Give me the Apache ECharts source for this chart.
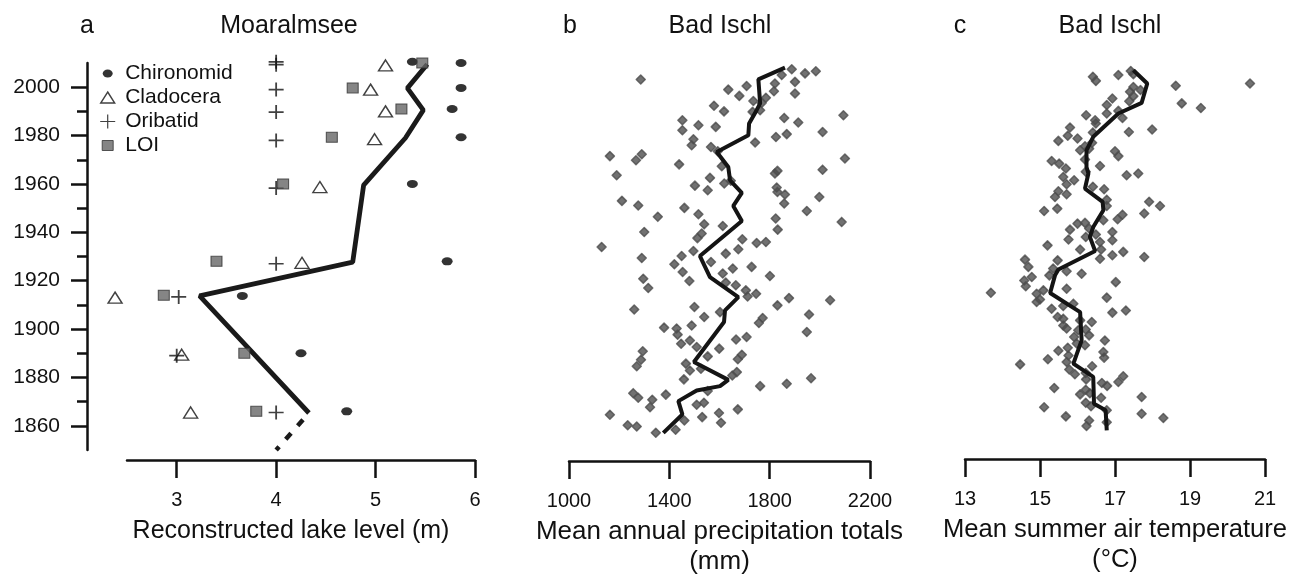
<!DOCTYPE html>
<html>
<head>
<meta charset="utf-8">
<title>Moaralmsee and Bad Ischl</title>
<script src="https://cdn.jsdelivr.net/npm/echarts@6/dist/echarts.min.js"></script>
<style>
  html, body { margin: 0; padding: 0; background: #fff; }
  #chart { width: 1293px; height: 574px; }
</style>
</head>
<body>
<div id="chart"></div>
<script>
// ---- data ----
// panel a: [lake level (m), year]
const chironomid = [[5.37, 2010.5], [5.86, 2010], [5.86, 1999.7], [5.77, 1991], [5.86, 1979.3],
	[5.37, 1960], [5.72, 1928], [3.66, 1913.7], [4.25, 1890], [4.71, 1866]];
const cladocera = [[5.10, 2009], [4.95, 1999], [5.10, 1990], [4.99, 1978.5], [4.44, 1958.7],
	[4.26, 1927.4], [2.38, 1913], [3.05, 1889.4], [3.14, 1865.5]];
const oribatid = [[4.0, 2010.5], [4.0, 2009.3], [4.0, 1999], [4.0, 1989.7], [4.0, 1978],
	[4.0, 1958.3], [4.0, 1927], [3.02, 1913.3], [3.0, 1889], [4.0, 1865.5]];
const loi = [[5.47, 2010], [4.77, 1999.7], [5.26, 1991], [4.56, 1979.3], [4.07, 1960],
	[3.40, 1928], [2.87, 1914], [3.68, 1890], [3.80, 1866]];
const lakeLevel = [[5.52, 2009.5], [5.32, 1999.6], [5.48, 1990.5], [5.30, 1979], [4.88, 1959.5],
	[4.77, 1927.7], [3.23, 1913.7], [4.33, 1865.3]];
const lakeLevelExtrapolated = [[4.33, 1865.3], [4.0, 1850]];

// panel b: [precipitation (mm), year]
const precipYears = [[1286, 2003.2], [1888, 2007.4], [1941, 2005.7], [1984, 2006.6], [1848, 2005.0],
	[1821, 2001.5], [1901, 2002.2], [1708, 2000.5], [1635, 1999.0], [1679, 1996.4], [1817, 1998.3],
	[1901, 1997.4], [1785, 1995.6], [1735, 1994.3], [1768, 1993.5], [1578, 1992.3], [1618, 1990.0],
	[1732, 1989.8], [1762, 1990.5], [2094, 1988.4], [1858, 1987.3], [1914, 1985.4], [1452, 1986.3],
	[1516, 1984.3], [1452, 1982.2], [1585, 1983.6], [2011, 1981.5], [1868, 1980.6], [1825, 1979.4],
	[1496, 1978.5], [1489, 1976.0], [1742, 1977.1], [1566, 1975.3], [1593, 1973.5], [1163, 1971.5],
	[1290, 1972.3], [1267, 1969.8], [2100, 1970.5], [1439, 1968.1], [1609, 1967.3], [2011, 1965.9],
	[1831, 1965.4], [1821, 1964.3], [1190, 1963.6], [1562, 1962.5], [1645, 1961.3], [1502, 1959.3],
	[1619, 1960.2], [1553, 1957.4], [1828, 1958.5], [1831, 1956.7], [1861, 1955.6], [1998, 1954.6],
	[1211, 1953.0], [1276, 1951.1], [1858, 1951.9], [1460, 1950.1], [1948, 1948.8], [1354, 1946.4],
	[1516, 1947.5], [2087, 1944.3], [1824, 1945.7], [1613, 1942.6], [1539, 1943.3], [1300, 1940.1],
	[1832, 1941.1], [1529, 1939.5], [1512, 1937.6], [1691, 1937.1], [1748, 1935.6], [1785, 1936.0],
	[1130, 1933.9], [1675, 1933.0], [1625, 1931.2], [1496, 1932.3], [1449, 1930.2], [1290, 1929.4],
	[1566, 1927.7], [1420, 1926.8], [1453, 1923.6], [1653, 1925.0], [1728, 1925.7], [1613, 1923.0],
	[1801, 1921.9], [1296, 1920.8], [1316, 1917.0], [1480, 1919.9], [1625, 1919.2], [1665, 1918.1],
	[1705, 1916.0], [1712, 1913.5], [1746, 1914.6], [1877, 1912.8], [2041, 1911.9], [1831, 1909.8],
	[1260, 1908.1], [1500, 1909.1], [1602, 1907.0], [1539, 1905.0], [1957, 1906.0], [1772, 1904.6],
	[1757, 1902.5], [1379, 1900.6], [1429, 1900.2], [1433, 1897.7], [1489, 1901.5], [1948, 1898.8],
	[1447, 1893.9], [1482, 1895.3], [1509, 1892.6], [1666, 1895.7], [1708, 1896.7], [1599, 1891.9],
	[1294, 1890.8], [1287, 1887.3], [1270, 1884.6], [1553, 1888.7], [1673, 1887.5], [1689, 1889.4],
	[1466, 1885.7], [1482, 1882.9], [1526, 1883.6], [1458, 1879.2], [1651, 1880.8], [1669, 1882.2],
	[1762, 1876.4], [1868, 1877.4], [1965, 1879.7], [1256, 1873.5], [1276, 1871.6], [1386, 1872.9],
	[1332, 1870.8], [1323, 1867.7], [1553, 1874.4], [1509, 1868.7], [1538, 1869.5], [1673, 1866.8],
	[1163, 1864.6], [1598, 1865.3], [1531, 1863.6], [1460, 1862.2], [1606, 1861.3], [1234, 1860.2],
	[1270, 1859.7], [1425, 1858.4], [1346, 1857.1]];
const precipSmooth = [[1861, 2008.1], [1755, 2003.2], [1762, 1993.3], [1748, 1990.5], [1718, 1985],
	[1715, 1980.1], [1589, 1973.2], [1635, 1967], [1642, 1961.5], [1689, 1956.3], [1655, 1950.9],
	[1689, 1944.7], [1522, 1930.2], [1562, 1921.5], [1675, 1913.2], [1622, 1907.7], [1618, 1902.9],
	[1498, 1886.4], [1635, 1879], [1602, 1876.4], [1509, 1874.6], [1436, 1870.2], [1452, 1864.7],
	[1376, 1857.1]];

// panel c: [summer temperature (°C), year]
const tempYears = [[16.41, 2004.3], [16.49, 2002.6], [17.09, 2005.0], [17.42, 2006.7], [17.49, 2005.4],
	[18.62, 2000.6], [20.6, 2001.5], [18.78, 1993.3], [19.29, 1991.4], [17.49, 2000.1], [17.40, 1998.1],
	[17.68, 1998.8], [17.49, 1996.3], [17.38, 1994.2], [16.93, 1995.3], [16.78, 1992.6], [16.78, 1989.1],
	[17.09, 1990.2], [17.20, 1987.3], [16.23, 1988.4], [16.47, 1986.3], [16.49, 1985.0], [17.37, 1981.5],
	[17.99, 1982.5], [15.80, 1983.3], [15.74, 1979.9], [16.00, 1978.8], [16.41, 1981.3], [15.49, 1977.8],
	[16.39, 1977.0], [16.20, 1975.6], [16.07, 1973.9], [16.31, 1974.6], [17.00, 1973.5], [17.09, 1971.5],
	[15.31, 1969.5], [15.51, 1968.4], [16.20, 1970.1], [15.69, 1966.4], [16.60, 1967.4], [16.22, 1965.0],
	[15.62, 1962.9], [15.91, 1961.5], [15.71, 1959.9], [17.31, 1963.6], [17.62, 1964.3], [15.49, 1957.0],
	[15.71, 1955.7], [15.40, 1954.6], [16.41, 1958.8], [16.71, 1957.8], [16.78, 1953.5], [16.78, 1950.9],
	[15.11, 1948.8], [15.46, 1949.8], [17.91, 1952.6], [18.20, 1950.9], [17.78, 1947.8], [17.20, 1947.3],
	[17.07, 1945.4], [16.69, 1945.0], [16.00, 1943.6], [16.20, 1943.9], [16.31, 1941.6], [15.80, 1941.1],
	[16.93, 1940.1], [15.76, 1937.0], [16.22, 1938.1], [16.49, 1939.1], [16.93, 1936.7], [16.60, 1936.0],
	[15.20, 1934.6], [16.07, 1932.9], [16.63, 1932.9], [17.22, 1931.9], [17.78, 1929.8], [14.60, 1928.7],
	[15.47, 1928.4], [16.60, 1929.1], [16.93, 1930.5], [14.69, 1925.7], [15.35, 1925.0], [15.71, 1923.9],
	[16.11, 1922.9], [14.78, 1921.5], [15.25, 1922.2], [14.58, 1920.1], [14.62, 1917.7], [17.02, 1919.4],
	[15.71, 1916.7], [13.69, 1915.0], [14.91, 1914.6], [15.09, 1916.0], [14.91, 1911.2], [15.00, 1912.2],
	[16.78, 1913.0], [15.31, 1908.4], [15.62, 1909.5], [15.89, 1910.5], [16.93, 1906.8], [17.29, 1907.7],
	[15.47, 1905.0], [15.62, 1904.3], [16.07, 1903.6], [16.38, 1902.9], [15.62, 1901.5], [15.71, 1900.2],
	[16.02, 1899.5], [16.22, 1899.8], [16.31, 1897.4], [15.91, 1896.7], [16.73, 1895.3], [16.20, 1893.3],
	[15.98, 1894.0], [15.74, 1892.3], [15.49, 1891.0], [16.69, 1890.5], [16.71, 1888.2], [15.76, 1889.1],
	[15.21, 1887.5], [15.71, 1886.4], [14.47, 1885.4], [16.39, 1884.6], [15.78, 1883.3], [15.93, 1881.3],
	[16.22, 1881.8], [16.23, 1879.2], [17.22, 1880.5], [17.09, 1878.1], [16.65, 1877.7], [16.79, 1876.5],
	[15.38, 1875.6], [16.22, 1874.9], [16.07, 1873.0], [16.33, 1873.5], [16.63, 1871.6], [17.71, 1871.9],
	[16.22, 1869.5], [16.36, 1868.1], [15.11, 1867.7], [17.71, 1865.0], [18.29, 1863.2], [15.69, 1863.9],
	[16.78, 1866.4], [16.31, 1862.2], [16.24, 1859.9], [16.78, 1861.5]];
const tempSmooth = [[17.49, 2007], [17.86, 2001.5], [17.71, 1993.5], [17.09, 1989.1], [16.42, 1979.5],
	[16.24, 1973.9], [16.24, 1967], [16.29, 1964.3], [16.2, 1958.1], [16.67, 1952.6], [16.69, 1949.1],
	[16.42, 1942.2], [16.33, 1938.1], [16.47, 1932.3], [15.49, 1924.6], [15.4, 1922.2], [15.27, 1914.9],
	[16.07, 1907], [16.11, 1895.3], [15.89, 1885.7], [16.42, 1880.2], [16.44, 1869.1], [16.75, 1866.4],
	[16.78, 1858.1]];

// ---- ticks ----
const yearTicks = [1860, 1880, 1900, 1920, 1940, 1960, 1980, 2000];
const yearMinorTicks = [1870, 1890, 1910, 1930, 1950, 1970, 1990];
const levelTicks = [3, 4, 5, 6];
const precipTicks = [1000, 1400, 1800, 2200];
const tempTicks = [13, 15, 17, 19, 21];

const FONT = "'Liberation Sans', Arial, Helvetica, sans-serif";
const INK = '#111';
const axisLine = { color: INK, width: 2.5 };
const YEAR_MIN = 1850;
const YEAR_MAX = 2010;
const plain = ( value ) => String( value );

const bottomAxis = ( gridIndex, min, max, ticks, offset, name, nameStyle ) => ( {
	type: 'value',
	gridIndex,
	min,
	max,
	position: 'bottom',
	offset,
	splitLine: { show: false },
	axisLine: { show: true, onZero: false, lineStyle: axisLine },
	axisTick: { show: true, customValues: ticks, length: 18, lineStyle: axisLine },
	axisLabel: { customValues: ticks, formatter: plain, margin: 30, fontSize: 20, color: INK, fontFamily: FONT },
	name,
	nameLocation: 'middle',
	nameGap: 56,
	nameMoveOverlap: false,
	nameTextStyle: Object.assign( { color: INK, fontFamily: FONT, lineHeight: 30 }, nameStyle )
} );

const yearAxis = ( gridIndex ) => ( {
	type: 'value', gridIndex, min: YEAR_MIN, max: YEAR_MAX, show: false
} );

const symbolSeries = ( name, data, symbol, symbolSize, itemStyle ) => ( {
	type: 'scatter',
	name,
	data,
	xAxisIndex: 0,
	yAxisIndex: 0,
	symbol,
	symbolSize,
	itemStyle,
	clip: false
} );

const PLUS = 'path://M0,4.4H10V5.6H0Z M4.4,0H5.6V10H4.4Z';
// legend icons: the leading moves pin every icon to the same 15x14 box
const ICON_DOT = 'path://M0,0M15,14M2.5,7A5,4,0,1,0,12.5,7A5,4,0,1,0,2.5,7Z';
const ICON_TRIANGLE = 'path://M0,0M15,14M7.5,1.5L14.5,12.5L0.5,12.5Z';
const ICON_PLUS = 'path://M0,6.4H15V7.6H0Z M6.9,0H8.1V14H6.9Z';
const ICON_SQUARE = 'path://M0,0M15,14M2,2H13V12H2Z';

const chart = echarts.init( document.getElementById( 'chart' ), null, { renderer: 'canvas' } );

chart.setOption( {
	animation: false,
	backgroundColor: '#fff',
	textStyle: { fontFamily: FONT },
	grid: [
		{ left: 127, right: 818, top: 63, bottom: 124, outerBoundsMode: 'none' },
		{ left: 569, right: 423, top: 63, bottom: 124, outerBoundsMode: 'none' },
		{ left: 965, right: 28, top: 63, bottom: 124, outerBoundsMode: 'none' }
	],
	xAxis: [
		bottomAxis( 0, 2.5, 6, levelTicks, 10, 'Reconstructed lake level (m)',
			{ fontSize: 25, padding: [ 0, 20, 0, 0 ] } ),
		bottomAxis( 1, 1000, 2200, precipTicks, 11, 'Mean annual precipitation totals\n(mm)', { fontSize: 26 } ),
		bottomAxis( 2, 13, 21, tempTicks, 9, 'Mean summer air temperature\n(°C)', { fontSize: 25.6 } )
	],
	yAxis: [
		{
			type: 'value',
			gridIndex: 0,
			min: YEAR_MIN,
			max: YEAR_MAX,
			position: 'left',
			offset: 40,
			splitLine: { show: false },
			axisLine: { show: true, onZero: false, lineStyle: axisLine },
			axisTick: { show: true, customValues: yearTicks, length: 16, lineStyle: axisLine },
			axisLabel: { customValues: yearTicks, formatter: plain, margin: 27, fontSize: 21, color: INK, fontFamily: FONT }
		},
		{
			type: 'value',
			gridIndex: 0,
			min: YEAR_MIN,
			max: YEAR_MAX,
			position: 'left',
			offset: 40,
			splitLine: { show: false },
			axisLine: { show: false },
			axisTick: { show: true, customValues: yearMinorTicks, length: 10, lineStyle: axisLine },
			axisLabel: { show: false }
		},
		yearAxis( 1 ),
		yearAxis( 2 )
	],
	legend: {
		orient: 'vertical',
		left: 94.5,
		top: 58,
		itemWidth: 15,
		itemHeight: 14,
		itemGap: 3,
		selectedMode: false,
		textStyle: { fontSize: 21, color: INK, fontFamily: FONT, lineHeight: 20, padding: [ 0, 0, 0, 5 ] },
		data: [
			{ name: 'Chironomid', icon: ICON_DOT },
			{ name: 'Cladocera', icon: ICON_TRIANGLE, itemStyle: { borderWidth: 1.4 } },
			{ name: 'Oribatid', icon: ICON_PLUS },
			{ name: 'LOI', icon: ICON_SQUARE, itemStyle: { borderWidth: 1 } }
		]
	},
	graphic: [
		[ 'a', 87 ], [ 'Moaralmsee', 289 ],
		[ 'b', 570 ], [ 'Bad Ischl', 720 ],
		[ 'c', 960 ], [ 'Bad Ischl', 1110 ]
	].map( ( [ text, x ] ) => ( {
		type: 'text',
		x,
		y: 26,
		style: { text, fontSize: 25, fontFamily: FONT, fill: INK, align: 'center', verticalAlign: 'middle' }
	} ) ),
	series: [
		{
			type: 'line',
			data: lakeLevel,
			xAxisIndex: 0,
			yAxisIndex: 0,
			symbol: 'none',
			clip: false,
			lineStyle: { color: '#1a1a1a', width: 4.8 },
			z: 1
		},
		{
			type: 'line',
			data: lakeLevelExtrapolated,
			xAxisIndex: 0,
			yAxisIndex: 0,
			symbol: 'none',
			clip: false,
			lineStyle: { color: '#1a1a1a', width: 4.5, type: [ 8, 10 ], dashOffset: -9 },
			z: 1
		},
		symbolSeries( 'Chironomid', chironomid, 'circle', [ 11, 8 ], { color: '#000' } ),
		symbolSeries( 'Cladocera', cladocera, 'triangle', [ 14, 11 ],
			{ color: 'rgba(0,0,0,0)', borderColor: '#111', borderWidth: 1.4 } ),
		symbolSeries( 'Oribatid', oribatid, PLUS, [ 15, 14 ], { color: '#111' } ),
		symbolSeries( 'LOI', loi, 'rect', [ 11, 10 ], { color: '#666', borderColor: '#333', borderWidth: 1 } ),
		{
			type: 'scatter',
			data: precipYears,
			xAxisIndex: 1,
			yAxisIndex: 2,
			symbol: 'diamond',
			symbolSize: 9,
			itemStyle: { color: '#4d4d4d', borderColor: '#4d4d4d', borderWidth: 1.5, borderJoin: 'round' }
		},
		{
			type: 'line',
			data: precipSmooth,
			xAxisIndex: 1,
			yAxisIndex: 2,
			symbol: 'none',
			lineStyle: { color: '#141414', width: 4 }
		},
		{
			type: 'scatter',
			data: tempYears,
			xAxisIndex: 2,
			yAxisIndex: 3,
			symbol: 'diamond',
			symbolSize: 9,
			itemStyle: { color: '#4d4d4d', borderColor: '#4d4d4d', borderWidth: 1.5, borderJoin: 'round' }
		},
		{
			type: 'line',
			data: tempSmooth,
			xAxisIndex: 2,
			yAxisIndex: 3,
			symbol: 'none',
			lineStyle: { color: '#141414', width: 4 }
		}
	]
} );
</script>
</body>
</html>
